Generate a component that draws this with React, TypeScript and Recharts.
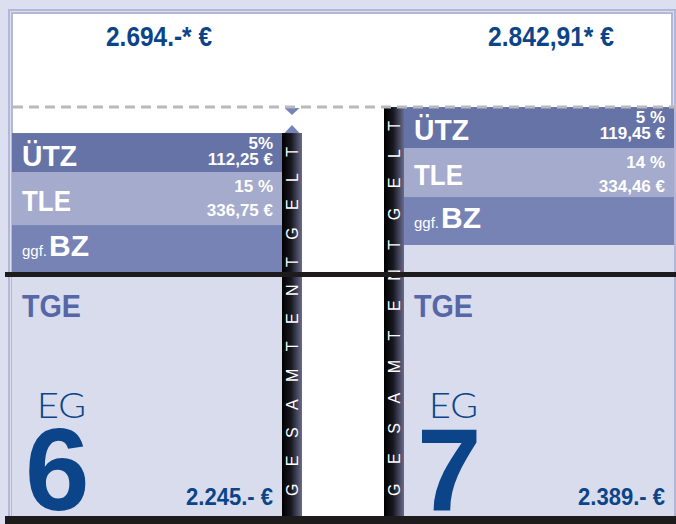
import React from "react";
import { BarChart, Bar, XAxis, YAxis, ReferenceLine } from "recharts";

// two pay groups, blocks stacked bottom→top as drawn in the figure (€ scale of the graphic)
const groups = ["EG 6", "EG 7"];
const tgeBlock = [1700, 1904];
const bzBlock = [342, 332];
const tleBlock = [367, 339];
const utzBlock = [270, 284];

// printed figures
const totalText = ["2.694.-* €", "2.842,91* €"];
const tgeText = ["2.245.- €", "2.389.- €"];
const utzPct = ["5%", "5 %"];
const utzAmt = ["112,25 €", "119,45 €"];
const tlePct = ["15 %", "14 %"];
const tleAmt = ["336,75 €", "334,46 €"];
const egDigit = ["6", "7"];
const stripWord = "GESAMTENTGELT";

const totals = groups.map((_, i) => tgeBlock[i] + bzBlock[i] + tleBlock[i] + utzBlock[i]);

const data = groups.map((name, i) => ({
  name,
  stripLeft: i === 1 ? totals[i] : null,
  tge: tgeBlock[i],
  bz: bzBlock[i],
  tle: tleBlock[i],
  utz: utzBlock[i],
  stripRight: i === 0 ? totals[i] : null,
}));

const C = {
  frame: "#dcdff0",
  frameLine: "#b4b8d6",
  utz: "#6673a7",
  tle: "#a5abcd",
  bz: "#7782b5",
  tge: "#d8dcec",
  navy: "#0b4488",
  tgeLabel: "#5567a6",
  tri: "#7683b7",
  dash: "#b9b9bd",
  black: "#1e1b1c",
};

const FONT = "'Liberation Sans', Arial, Helvetica, sans-serif";

const UtzShape = (p: any) => {
  const { x, y, width, height, index } = p;
  if (!height) return null;
  const r = x + width - 9;
  return (
    <g fontFamily={FONT}>
      <rect x={x} y={y} width={width} height={height} fill={C.utz} />
      <text x={x + 10} y={y + 33} fontSize={29} fontWeight={700} fill="#fff" textLength={55} lengthAdjust="spacingAndGlyphs">
        ÜTZ
      </text>
      <text x={r} y={y + 16} textAnchor="end" fontSize={17} fontWeight={700} fill="#fff">
        {utzPct[index]}
      </text>
      <text x={r} y={y + 32} textAnchor="end" fontSize={17} fontWeight={700} fill="#fff">
        {utzAmt[index]}
      </text>
      <text
        x={x + width / 2 + 12}
        y={46}
        textAnchor="middle"
        fontSize={27}
        fontWeight={700}
        fill={C.navy}
        textLength={index ? 126 : 106}
        lengthAdjust="spacingAndGlyphs"
      >
        {totalText[index]}
      </text>
    </g>
  );
};

const TleShape = (p: any) => {
  const { x, y, width, height, index } = p;
  if (!height) return null;
  const r = x + width - 9;
  return (
    <g fontFamily={FONT}>
      <rect x={x} y={y} width={width} height={height} fill={C.tle} />
      <text x={x + 10} y={y + height / 2 + 12} fontSize={30} fontWeight={700} fill="#fff" textLength={49} lengthAdjust="spacingAndGlyphs">
        TLE
      </text>
      <text x={r} y={y + 20} textAnchor="end" fontSize={17} fontWeight={700} fill="#fff">
        {tlePct[index]}
      </text>
      <text x={r} y={y + 44} textAnchor="end" fontSize={17} fontWeight={700} fill="#fff">
        {tleAmt[index]}
      </text>
    </g>
  );
};

const BzShape = (p: any) => {
  const { x, y, width, height } = p;
  if (!height) return null;
  return (
    <g fontFamily={FONT} fill="#fff">
      <rect x={x} y={y} width={width} height={height} fill={C.bz} />
      <text x={x + 10} y={y + 31} fontSize={15}>
        ggf.
      </text>
      <text x={x + 37} y={y + 31} fontSize={30} fontWeight={700} textLength={40} lengthAdjust="spacingAndGlyphs">
        BZ
      </text>
    </g>
  );
};

const TgeShape = (p: any) => {
  const { x, y, width, height, index } = p;
  if (!height) return null;
  const bottom = y + height;
  return (
    <g fontFamily={FONT}>
      <rect x={x} y={y} width={width} height={height} fill={C.tge} />
      <text x={x + 10} y={bottom - 203} fontSize={31} fontWeight={700} fill={C.tgeLabel} textLength={59} lengthAdjust="spacingAndGlyphs">
        TGE
      </text>
      <text x={x + 25} y={bottom - 102} fontSize={35} fontWeight={300} fill={C.navy} fontFamily="Lato, 'Liberation Sans', sans-serif" textLength={49} lengthAdjust="spacingAndGlyphs">
        EG
      </text>
      <text x={x + 13} y={bottom - 10} fontSize={116} fontWeight={700} fill={C.navy}>
        {egDigit[index]}
      </text>
      <text x={x + width - 9} y={bottom - 15} textAnchor="end" fontSize={23} fontWeight={700} fill={C.navy} textLength={87} lengthAdjust="spacingAndGlyphs">
        {tgeText[index]}
      </text>
    </g>
  );
};

const StripShape = (p: any) => {
  const { x, y, width, height, index } = p;
  if (!height) return null;
  const cx = x + width / 2;
  const gid = `strip-grad-${index}`;
  let marks = null;
  if (index === 0) {
    // gap markers up to the taller column's total
    const yd = y - ((totals[1] - totals[0]) * height) / totals[0];
    marks = (
      <g fill={C.tri}>
        <polygon points={`${cx - 7.5},${yd + 1} ${cx + 7.5},${yd + 1} ${cx},${yd + 8}`} />
        <polygon points={`${cx - 7.5},${y} ${cx + 7.5},${y} ${cx},${y - 8}`} />
      </g>
    );
  }
  return (
    <g>
      <defs>
        <linearGradient id={gid} x1="0" y1="0" x2="1" y2="0">
          <stop offset="0" stopColor="#000000" />
          <stop offset="0.45" stopColor="#17171f" />
          <stop offset="1" stopColor="#676b8d" />
        </linearGradient>
      </defs>
      <rect x={x} y={y} width={width} height={height} fill={`url(#${gid})`} />
      <text
        x={0}
        y={6}
        transform={`translate(${cx},${y + height - 24}) rotate(-90)`}
        fontFamily={FONT}
        fontSize={16}
        fill="#fff"
        textLength={height - 38}
        lengthAdjust="spacing"
      >
        {stripWord}
      </text>
      {marks}
    </g>
  );
};

export default function App() {
  return (
    <div style={{ position: "absolute", left: 0, top: 0, width: 676, height: 524, background: C.frame, overflow: "hidden" }}>
      <div
        style={{
          position: "absolute",
          left: 8,
          top: 9,
          width: 658,
          height: 520,
          background: "#fff",
          backgroundClip: "padding-box",
          border: `5px double ${C.frameLine}`,
          borderBottom: "none",
        }}
      />
      <div style={{ position: "absolute", left: 0, top: 0 }}>
        <BarChart width={676} height={524} data={data} margin={{ top: 0, right: 0, bottom: 0, left: 5 }} barGap={0}>
          <YAxis hide domain={[0, 3600]} />
          <Bar dataKey="stripLeft" stackId="a-left" barSize={20} shape={StripShape} isAnimationActive={false} />
          <Bar dataKey="tge" stackId="b-pay" barSize={270} shape={TgeShape} isAnimationActive={false} />
          <Bar dataKey="bz" stackId="b-pay" barSize={270} shape={BzShape} isAnimationActive={false} />
          <Bar dataKey="tle" stackId="b-pay" barSize={270} shape={TleShape} isAnimationActive={false} />
          <Bar dataKey="utz" stackId="b-pay" barSize={270} shape={UtzShape} isAnimationActive={false} />
          <Bar dataKey="stripRight" stackId="c-right" barSize={20} shape={StripShape} isAnimationActive={false} />
          <ReferenceLine
            y={totals[1]}
            shape={(lp: any) => {
              const yy = lp.y1 ?? lp.y;
              return <line x1={13} x2={676} y1={yy} y2={yy} stroke={C.dash} strokeWidth={3} strokeDasharray="10 6" />;
            }}
          />
          <ReferenceLine y={tgeBlock[0]} stroke={C.black} strokeWidth={5} />
          <XAxis
            dataKey="name"
            tick={false}
            tickLine={false}
            height={4}
            padding={{ left: -54, right: -59 }}
            axisLine={{ stroke: C.black, strokeWidth: 8 }}
          />
        </BarChart>
      </div>
    </div>
  );
}
